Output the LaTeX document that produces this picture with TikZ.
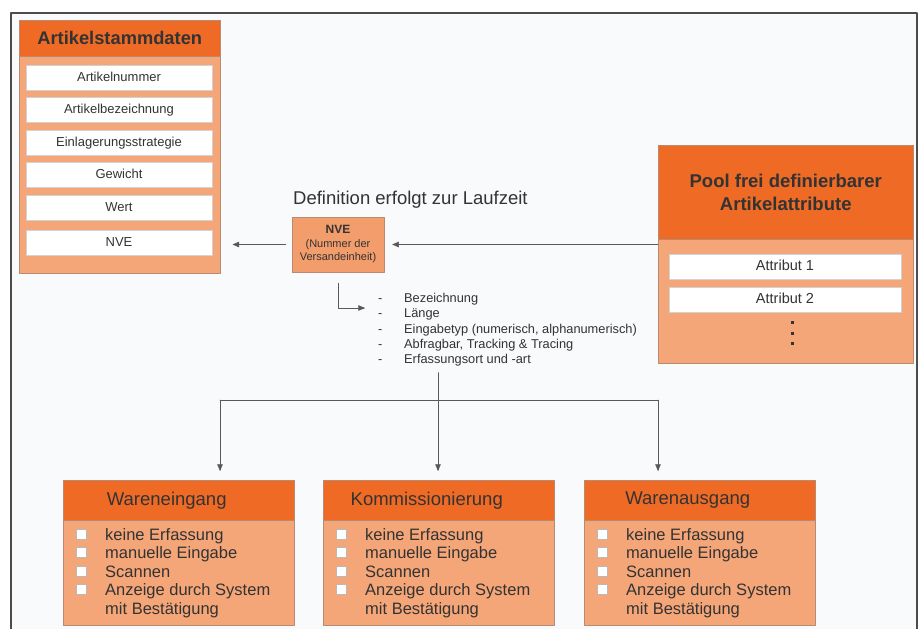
\documentclass[tikz,border=0pt]{standalone}
\usepackage{fontspec}
\setmainfont{Liberation Sans}
\usepackage{tikz}
\usetikzlibrary{arrows}
\usetikzlibrary{positioning}

\definecolor{kopf}{HTML}{EF6A24}
\definecolor{koerper}{HTML}{F5A678}
\definecolor{nvefarbe}{HTML}{F39C6C}
\definecolor{rand}{HTML}{B98A72}
\definecolor{schrift}{HTML}{333333}
\definecolor{grund}{HTML}{F9FAFC}

\newcommand{\kbox}{\makebox[29pt][l]{\raisebox{1.5pt}{\setlength{\fboxsep}{0pt}\fcolorbox{gray!55}{white}{\rule{0pt}{9.5pt}\hspace{9.5pt}}}}}
\newcommand{\leerbox}{\hspace*{29pt}}

\begin{document}
\begin{tikzpicture}[line cap=round,line join=round,>=triangle 45,x=1pt,y=-1pt,
  kasten/.style={draw=rand,line width=0.5pt,inner sep=0pt,anchor=north west},
  kopfbox/.style={kasten,fill=kopf,text=schrift},
  bodybox/.style={kasten,fill=koerper},
  zeile/.style={draw=gray!35,fill=white,inner sep=0pt,minimum height=25pt,text height=9.5pt,text depth=2.5pt,text=schrift},
  pfeil/.style={->,draw=gray!70!black,line width=0.5pt}]
        \useasboundingbox (0,0) rectangle (921,629);
        \fill[grund] (11,13) rectangle (917,629);
        \draw[line width=1.2pt,color=black!70] (11,629) -- (11,13) -- (917,13) -- (917,629);
        % Artikelstammdaten
        \node[bodybox,minimum width=201pt,minimum height=253pt] (stamm) at (19,20) {};
        \node[kopfbox,minimum width=201pt,minimum height=36pt,font=\fontsize{18.3}{20}\selectfont\bfseries] (stammkopf) at (19,20) {Artikelstammdaten};
        \foreach \t/\y [count=\i] in {Artikelnummer/77.5,Artikelbezeichnung/109.5,Einlagerungsstrategie/142.5,Gewicht/174.5,Wert/207.5,NVE/243}
        \node[zeile,minimum width=186pt,font=\fontsize{13}{15}\selectfont] (merkmal\i) at (119,\y) {\t};
        % NVE
        \node[anchor=west,inner sep=0pt,text=schrift,font=\fontsize{18.5}{21}\selectfont] (laufzeit) at (293,200) {Definition erfolgt zur Laufzeit};
        \node[draw=rand,fill=nvefarbe,minimum width=92pt,minimum height=55pt,inner sep=0pt,align=center,text=schrift,font=\fontsize{11}{13.5}\selectfont] (nve) at (338,244.5) {{\fontsize{12}{13.5}\selectfont\bfseries NVE}\\(Nummer der\\Versandeinheit)};
        % Pool
        \node[bodybox,minimum width=255pt,minimum height=218pt] (pool) at (658,145) {};
        \node[kopfbox,minimum width=255pt,minimum height=94pt,align=center,font=\fontsize{18.5}{23}\selectfont\bfseries] (poolkopf) at (658,145) {Pool frei definierbarer\\Artikelattribute};
        \foreach \t/\y [count=\i] in {Attribut 1/266.5,Attribut 2/299.5}
        \node[zeile,minimum width=232pt,font=\fontsize{14.5}{16}\selectfont] (attribut\i) at (785,\y) {\t};
        \foreach \y in {322,333,343}
        \fill[black!80] (790.5,\y-1.5) rectangle ++(3,3);
        \draw[pfeil,shorten <=6pt,shorten >=12pt] (nve.west) -- (stamm.east |- nve.west);
        \draw[pfeil,shorten >=8pt] (pool.west |- nve.east) -- (nve.east);
        % Eigenschaften
        \node[anchor=north west,inner sep=0pt,align=left,text=schrift,font=\fontsize{12.8}{15.3}\selectfont] (liste) at (378,293) {\makebox[26pt][l]{-}Bezeichnung\\\makebox[26pt][l]{-}Länge\\\makebox[26pt][l]{-}Eingabetyp (numerisch, alphanumerisch)\\\makebox[26pt][l]{-}Abfragbar, Tracking \& Tracing\\\makebox[26pt][l]{-}Erfassungsort und -art};
        \coordinate (listein) at (365,308);
        \draw[pfeil,shorten <=11pt] (nve.south) |- (listein);
        % Verzweigung
        \coordinate (gabel) at (438,400);
        \coordinate (gabellinks) at (220,400);
        \coordinate (gabelrechts) at (658,400);
        \draw[pfeil,-,shorten <=6pt] (liste.south -| gabel) -- (gabel);
        \draw[pfeil,-] (gabellinks) -- (gabelrechts);
        % Bereiche
        \foreach \n/\x/\t in {wein/63/Wareneingang,kom/323/Kommissionierung,waus/584/Warenausgang}{
        \node[bodybox,minimum width=231pt,minimum height=145pt] (\n) at (\x,480) {};
        \node[kopfbox,minimum width=231pt,minimum height=40pt,font=\fontsize{18.5}{21}\selectfont] (\n-kopf) at (\x,480) {\hspace*{-24pt}\t};
        \node[anchor=north west,inner sep=0pt,align=left,text=schrift,font=\fontsize{16.5}{18.5}\selectfont] (\n-liste) at (\x+13,528) {\kbox keine Erfassung\\\kbox manuelle Eingabe\\\kbox Scannen\\\kbox Anzeige durch System\\\leerbox mit Bestätigung};
        }
        \foreach \g/\b in {gabellinks/wein,gabel/kom,gabelrechts/waus}
        \draw[pfeil,shorten >=9pt] (\g) -- (\g |- \b.north);
\end{tikzpicture}
\end{document}
